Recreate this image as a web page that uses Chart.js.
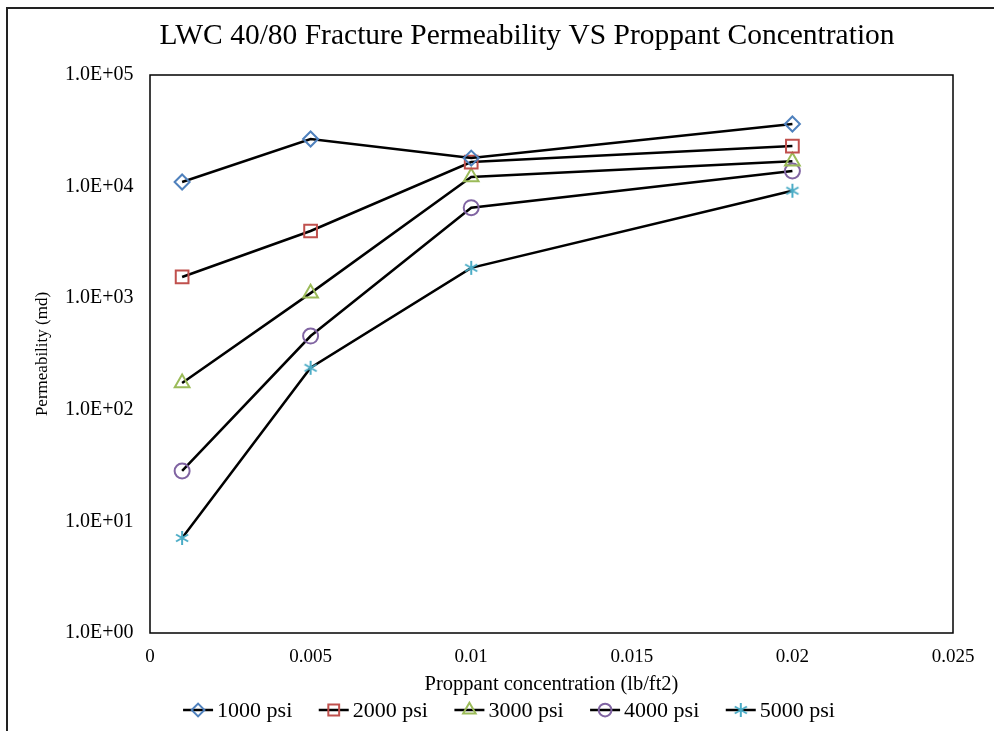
<!DOCTYPE html>
<html lang="en">
<head>
<meta charset="UTF-8">
<title>chart</title>
<script src="https://cdn.jsdelivr.net/npm/chart.js@4.4.0/dist/chart.umd.min.js"></script>
<style>
  html, body { margin: 0; padding: 0; background: #fff; }
</style>
</head>
<body>
<canvas id="canvas" width="994" height="731"></canvas>
<script>
// values (md vs lb/ft2)
const concentration = [0.001, 0.005, 0.01, 0.02];
const perm1000 = [11000, 26700, 18000, 36400];
const perm2000 = [1550, 4000, 16600, 23100];
const perm3000 = [174, 1110, 12200, 16900];
const perm4000 = [28.3, 458, 6470, 13800];
const perm5000 = [7.1, 238, 1870, 9190];
const seriesNames = ['1000 psi', '2000 psi', '3000 psi', '4000 psi', '5000 psi'];
const yTicks = [1, 10, 100, 1000, 10000, 100000];
const xTicks = [0, 0.005, 0.01, 0.015, 0.02, 0.025];

const serif = '"Liberation Serif", "Times New Roman", serif';

// excel style asterisk marker
function asterisk(color, size) {
    const c = document.createElement('canvas');
    c.width = c.height = size;
    const g = c.getContext('2d');
    g.strokeStyle = color;
    g.lineWidth = 2;
    const m = size / 2, r = size / 2 - 1;
    g.beginPath();
    [90, 30, -30].forEach(a => {
        const dx = Math.cos(a * Math.PI / 180) * r, dy = Math.sin(a * Math.PI / 180) * r;
        g.moveTo(m - dx, m - dy);
        g.lineTo(m + dx, m + dy);
    });
    g.stroke();
    return c;
}

function pts(vals) {
    return concentration.map((x, i) => ({x: x, y: vals[i]}));
}

function series(label, vals, color, style, radius) {
    return {
        label: label,
        data: pts(vals),
        borderColor: '#000',
        borderWidth: 2.5,
        tension: 0,
        pointStyle: style,
        pointRadius: radius,
        pointHoverRadius: radius,
        pointBorderColor: color,
        pointBackgroundColor: 'rgba(0,0,0,0)',
        pointBorderWidth: 2
    };
}

const frame = {
    id: 'frame',
    afterDraw(chart) {
        const ctx = chart.ctx, a = chart.chartArea;
        ctx.save();
        ctx.strokeStyle = '#000';
        ctx.lineWidth = 1.5;
        ctx.strokeRect(a.left, a.top, a.right - a.left, a.bottom - a.top);
        // outer picture border (top + left only)
        ctx.strokeStyle = '#222';
        ctx.lineWidth = 2;
        ctx.beginPath();
        ctx.moveTo(7, 731);
        ctx.lineTo(7, 8);
        ctx.lineTo(994, 8);
        ctx.stroke();

        // legend: line with marker, like excel
        ctx.font = '22px ' + serif;
        ctx.textBaseline = 'middle';
        const sets = chart.data.datasets;
        const widths = sets.map(ds => 34 + ctx.measureText(ds.label).width);
        const gap = 26.5;
        const total = widths.reduce((s, w) => s + w, 0) + gap * (sets.length - 1);
        let x = 509 - total / 2;
        const y = 710;
        sets.forEach((ds, i) => {
            ctx.strokeStyle = '#000';
            ctx.lineWidth = 2.5;
            ctx.beginPath();
            ctx.moveTo(x, y);
            ctx.lineTo(x + 30, y);
            ctx.stroke();
            ctx.strokeStyle = ds.pointBorderColor;
            ctx.fillStyle = 'rgba(0,0,0,0)';
            ctx.lineWidth = 2;
            Chart.helpers.drawPoint(ctx, {
                pointStyle: ds.pointStyle, rotation: 0, borderWidth: 2, radius: ds.pointRadius * 0.85
            }, x + 15, y);
            ctx.fillStyle = '#000';
            ctx.fillText(ds.label, x + 34, y + 1);
            x += widths[i] + gap;
        });
        ctx.restore();
    }
};

const ctx = document.getElementById('canvas').getContext('2d');
new Chart(ctx, {
    type: 'line',
    data: {
        datasets: [
            series(seriesNames[0], perm1000, '#4F81BD', 'rectRot', 7.5),
            series(seriesNames[1], perm2000, '#C0504D', 'rect', 9),
            series(seriesNames[2], perm3000, '#9BBB59', 'triangle', 8.5),
            series(seriesNames[3], perm4000, '#8064A2', 'circle', 7.5),
            series(seriesNames[4], perm5000, '#4BACC6', asterisk('#4BACC6', 16), 8)
        ]
    },
    options: {
        responsive: false,
        animation: false,
        devicePixelRatio: 1,
        // left padding shifts the title centre to match; y axis box shrinks to keep plot at x=150
        layout: { padding: { left: 101, right: 41, top: 10, bottom: 34 } },
        plugins: {
            legend: { display: false },
            tooltip: { enabled: false },
            title: {
                display: true,
                text: 'LWC 40/80 Fracture Permeability VS Proppant Concentration',
                color: '#000',
                font: { family: serif, size: 29.5, weight: 'normal' },
                padding: { top: 9, bottom: 20.6 }
            }
        },
        scales: {
            x: {
                type: 'linear',
                min: 0,
                max: 0.025,
                grid: { display: false, drawTicks: false },
                border: { display: false },
                afterBuildTicks: s => { s.ticks = xTicks.map(v => ({value: v})); },
                afterFit: s => { s.height = 64; },
                ticks: {
                    color: '#000',
                    padding: 13,
                    maxRotation: 0,
                    font: { family: serif, size: 19 },
                    callback: v => String(Number(v.toFixed(3)))
                },
                title: {
                    display: true,
                    text: 'Proppant concentration (lb/ft2)',
                    color: '#000',
                    font: { family: serif, size: 20.5 },
                    padding: { top: 0, bottom: 0 }
                }
            },
            y: {
                type: 'logarithmic',
                min: 1,
                max: 100000,
                grid: { display: false, drawTicks: false },
                border: { display: false },
                afterBuildTicks: s => { s.ticks = yTicks.map(v => ({value: v})); },
                afterFit: s => { s.width = 49; },
                ticks: {
                    // mirror avoids clipping to the narrow axis box; negative padding puts labels back left
                    mirror: true,
                    crossAlign: 'far',
                    color: '#000',
                    padding: -85,
                    font: { family: serif, size: 20 },
                    callback: v => '1.0E+' + String(Math.round(Math.log10(v))).padStart(2, '0')
                },
                title: {
                    display: true,
                    text: 'Permeability (md)',
                    color: '#000',
                    font: { family: serif, size: 17 },
                    padding: { top: -69, bottom: 0 }
                }
            }
        }
    },
    plugins: [frame]
});
</script>
</body>
</html>
